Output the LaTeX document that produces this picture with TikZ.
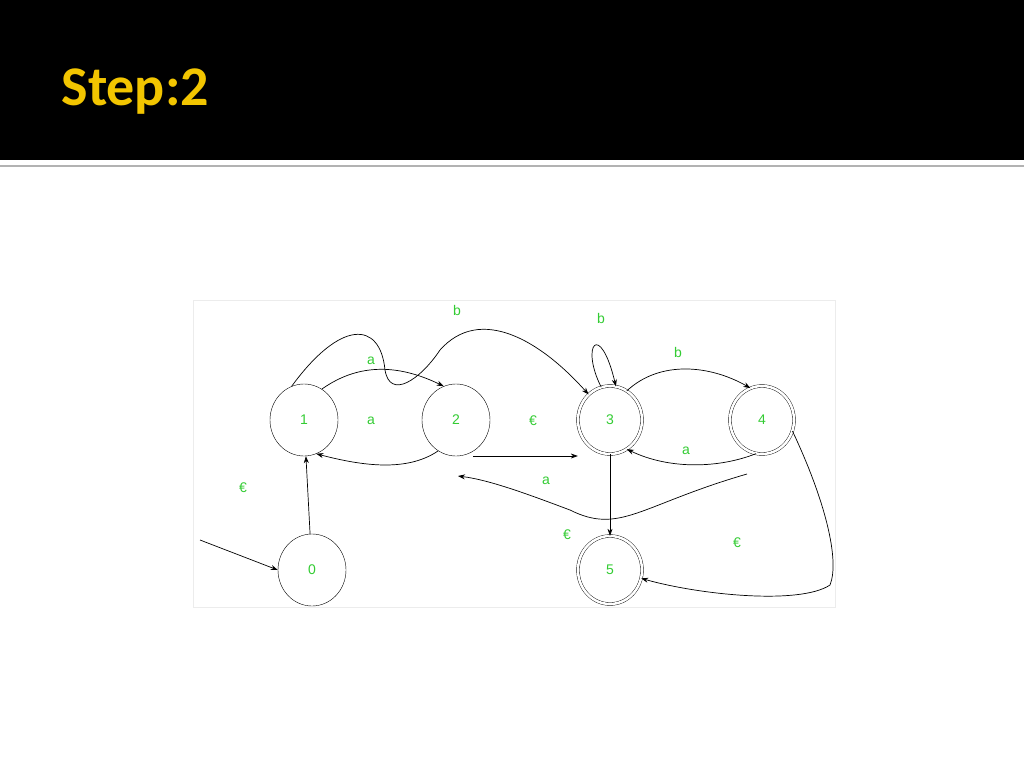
\documentclass[tikz,border=0pt]{standalone}
\usepackage{fontspec}
\setmainfont{Liberation Sans}
\newfontfamily\titlefont{Carlito}
\usetikzlibrary{arrows.meta}
\definecolor{lbl}{HTML}{33CC33}
\definecolor{ttl}{HTML}{F2C500}
\begin{document}
\begin{tikzpicture}[x=1pt,y=-1pt,
  st/.style={draw,ellipse,minimum width=68pt,minimum height=72pt,inner sep=0pt,text=lbl,font=\fontsize{14}{14}\selectfont},
  acc/.style={st,double,double distance=2.5pt,minimum width=64pt,minimum height=68pt},
  lb/.style={text=lbl,font=\fontsize{14}{14}\selectfont},
  ed/.style={-{Stealth[length=7pt,width=5pt]},line width=0.7pt}]
\useasboundingbox (0,0) rectangle (1024,768);
\fill[white] (0,0) rectangle (1024,768);
\fill[black] (0,0) rectangle (1024,160);
\draw[gray!60,line width=2pt] (0,166) -- (1024,166);
\node[anchor=west,text=ttl,font=\titlefont\bfseries\fontsize{56}{56}\selectfont] (title) at (58,92) {Step:2};
\draw[gray!15,line width=1pt] (193,300) rectangle (835,607);
\usetikzlibrary{shapes.geometric}
\node[st] (n1) at (304,420) {1};
\node[st] (n2) at (456,420) {2};
\node[acc] (n3) at (610,420) {3};
\node[acc] (n4) at (762,420) {4};
\node[st] (n0) at (312,570) {0};
\node[acc] (n5) at (610,570) {5};
\coordinate (s) at (200,540);
\draw[ed] (s) -- (n0.west);
\draw[ed] (n0) -- (n1);
\draw[ed] (n1.60) .. controls (360,362) and (400,365) .. (n2.110);
\draw[ed] (n2.240) .. controls (410,470) and (370,468) .. (n1.290);
\draw[ed] (n1.110) .. controls (340,320) and (380,320) .. (385,370) .. controls (390,400) and (420,380) .. (440,350) .. controls (480,305) and (540,340) .. (n3.130);
\draw[ed] (473,456) coordinate (a2) -- (n3.west |- a2);
\draw[ed] (n3.105) .. controls (580,345) and (600,320) .. (n3.80);
\draw[ed] (n3.60) .. controls (660,360) and (710,365) .. (n4.110);
\draw[ed] (n4.260) .. controls (720,468) and (670,470) .. (n3.300);
\coordinate (c4) at (747,474);
\draw[ed] (c4) .. controls (640,505) and (620,535) .. (570,510) .. controls (530,495) and (490,480) .. (458,476);
\draw[ed] (n3) -- (n5);
\draw[ed] (n4.-20) .. controls (825,500) and (840,560) .. (830,585) .. controls (800,605) and (700,595) .. (n5.-15);
\node[lb] (lb1) at (457,310) {b};
\node[lb] (la1) at (371,361) {a};
\node[lb] (la2) at (371,421) {a};
\node[lb] (le1) at (533,421) {€};
\node[lb] (lb3) at (601,318) {b};
\node[lb] (lb4) at (678,352) {b};
\node[lb] (la4) at (686,451) {a};
\node[lb] (la5) at (546,481) {a};
\node[lb] (le0) at (243,488) {€};
\node[lb] (le5) at (567,535) {€};
\node[lb] (le6) at (737,543) {€};
\end{tikzpicture}
\end{document}
